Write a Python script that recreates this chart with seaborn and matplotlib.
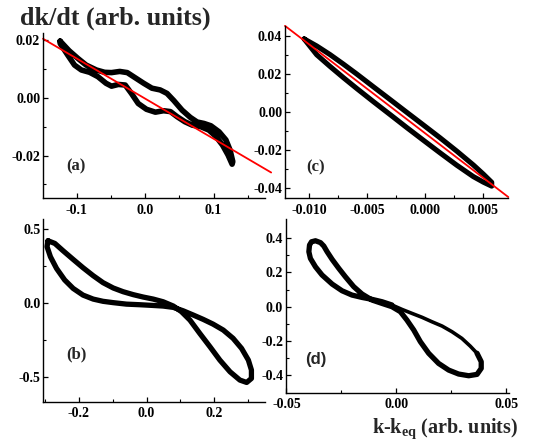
import numpy as np
import matplotlib
matplotlib.use("Agg")
import matplotlib.pyplot as plt
import seaborn as sns
import pandas as pd

# ---------------- data ----------------
# panel (a): loop, two branches (x, y)
a_up_x = [-0.124, -0.111, -0.098, -0.086, -0.071, -0.059, -0.049, -0.037, -0.026, -0.015, -0.002,
          0.010, 0.022, 0.032, 0.042, 0.054, 0.066, 0.076, 0.086, 0.096, 0.108, 0.118, 0.124, 0.128]
a_up_y = [0.0196, 0.0163, 0.0136, 0.0113, 0.0096, 0.0088, 0.0087, 0.0091, 0.0087, 0.0070, 0.0050,
          0.0033, 0.0027, 0.0015, -0.0010, -0.0043, -0.0068, -0.0084, -0.0089, -0.0097, -0.0118,
          -0.0146, -0.0181, -0.0221]
a_lo_x = [0.127, 0.121, 0.113, 0.103, 0.093, 0.081, 0.069, 0.058, 0.047, 0.037, 0.027, 0.015, 0.002,
          -0.010, -0.020, -0.029, -0.039, -0.049, -0.057, -0.069, -0.081, -0.093, -0.103, -0.113, -0.124]
a_lo_y = [-0.0230, -0.0198, -0.0164, -0.0133, -0.0112, -0.0100, -0.0095, -0.0083, -0.0066, -0.0048,
          -0.0045, -0.0050, -0.0040, -0.0020, 0.0015, 0.0044, 0.0046, 0.0040, 0.0050, 0.0073, 0.0088,
          0.0096, 0.0113, 0.0148, 0.0188]
fit_a_slope, fit_a_intercept = -0.139, -0.0003

# panel (b)
b_x = [-0.290, -0.270, -0.246, -0.216, -0.187, -0.157, -0.128, -0.098, -0.069, -0.039, -0.010, 0.020,
       0.049, 0.079, 0.103, 0.128, 0.157, 0.187, 0.216, 0.246, 0.275, 0.295,
       0.309, 0.309, 0.300, 0.280, 0.255, 0.226, 0.196, 0.167, 0.138, 0.108, 0.079, 0.049, 0.020,
       -0.020, -0.059, -0.098, -0.128, -0.157, -0.187, -0.216, -0.241, -0.265, -0.283, -0.293, -0.290]
b_y = [0.423, 0.405, 0.356, 0.297, 0.241, 0.187, 0.140, 0.104, 0.079, 0.059, 0.043, 0.029,
       0.011, -0.018, -0.056, -0.113, -0.203, -0.293, -0.383, -0.462, -0.518, -0.534,
       -0.507, -0.450, -0.383, -0.304, -0.236, -0.180, -0.140, -0.108, -0.079, -0.050, -0.027,
       -0.018, -0.014, -0.009, -0.005, 0.005, 0.014, 0.029, 0.056, 0.101, 0.158, 0.236, 0.315,
       0.383, 0.423]

# panel (c)
c_x = [-0.01040, -0.00932, -0.00818, -0.00703, -0.00588, -0.00445, -0.00301, -0.00158, -0.00014,
       0.00129, 0.00273, 0.00416, 0.00502, 0.00574,
       0.00574, 0.00502, 0.00416, 0.00273, 0.00129, -0.00014, -0.00158, -0.00301, -0.00445,
       -0.00588, -0.00703, -0.00818, -0.00932, -0.01040]
c_y = [0.0385, 0.0348, 0.0303, 0.0253, 0.0201, 0.0134, 0.0067, 0.0000, -0.0067, -0.0134, -0.0204,
       -0.0277, -0.0325, -0.0368,
       -0.0388, -0.0367, -0.0338, -0.0278, -0.0213, -0.0147, -0.0080, -0.0012, 0.0056, 0.0125,
       0.0182, 0.0241, 0.0302, 0.0385]
fit_c_slope, fit_c_intercept = -4.678, -0.0110

# panel (d): dense part, then sparse part (upper edge of the lower-right lobe)
d_x = [-0.0020, -0.0065, -0.0111, -0.0156, -0.0202, -0.0247, -0.0292, -0.0338,
       -0.0368, -0.0391, -0.0398, -0.0395, -0.0386, -0.0368, -0.0345, -0.0330, -0.0315, -0.0292,
       -0.0262, -0.0232, -0.0194, -0.0156, -0.0111, -0.0065, -0.0020, 0.0018, 0.0048, 0.0079,
       0.0109, 0.0147, 0.0192, 0.0238, 0.0283, 0.0329, 0.0367, 0.0386, 0.0386, 0.0367]
d_y = [0.010, 0.029, 0.043, 0.054, 0.068, 0.093, 0.132, 0.185,
       0.233, 0.282, 0.321, 0.360, 0.379, 0.385, 0.374, 0.354, 0.321, 0.276,
       0.224, 0.175, 0.117, 0.074, 0.039, 0.019, 0.000, -0.029, -0.078, -0.136,
       -0.204, -0.272, -0.331, -0.370, -0.393, -0.403, -0.395, -0.360, -0.321, -0.272]
d_sparse_x = [0.0367, 0.0336, 0.0298, 0.0253, 0.0208, 0.0162, 0.0117, 0.0071, 0.0026, -0.0020]
d_sparse_y = [-0.272, -0.230, -0.185, -0.146, -0.113, -0.088, -0.062, -0.039, -0.016, 0.010]

a_xticks, a_xlabels = [-0.1, 0.0, 0.1], ["-0.1", "0.0", "0.1"]
a_yticks, a_ylabels = [-0.02, 0.0, 0.02], ["-0.02", "0.00", "0.02"]
b_xticks, b_xlabels = [-0.2, 0.0, 0.2], ["-0.2", "0.0", "0.2"]
b_yticks, b_ylabels = [-0.5, 0.0, 0.5], ["-0.5", "0.0", "0.5"]
c_xticks, c_xlabels = [-0.010, -0.005, 0.0, 0.005], ["-0.010", "-0.005", "0.000", "0.005"]
c_yticks, c_ylabels = [-0.04, -0.02, 0.0, 0.02, 0.04], ["-0.04", "-0.02", "0.00", "0.02", "0.04"]
d_xticks, d_xlabels = [-0.05, 0.0, 0.05], ["-0.05", "0.00", "0.05"]
d_yticks, d_ylabels = [-0.4, -0.2, 0.0, 0.2, 0.4], ["-0.4", "-0.2", "0.0", "0.2", "0.4"]

# ---------------- style ----------------
sns.set_style("ticks")
plt.rcParams["font.family"] = ["Liberation Serif", "DejaVu Serif"]
plt.rcParams["mathtext.fontset"] = "custom"
plt.rcParams["mathtext.rm"] = "Liberation Serif:bold"
plt.rcParams["mathtext.it"] = "Liberation Serif:bold"
plt.rcParams["mathtext.bf"] = "Liberation Serif:bold"

fig = plt.figure(figsize=(5.33, 4.46), dpi=100)

W, H = 533.0, 446.0
def box(l, r, t, b):
    return [l / W, 1 - b / H, (r - l) / W, (b - t) / H]

ax_a = fig.add_axes(box(43, 265, 33.3, 198))
ax_c = fig.add_axes(box(285, 508.3, 26, 198.3))
ax_b = fig.add_axes(box(43.3, 265, 219, 401.7))
ax_d = fig.add_axes(box(286, 508.7, 219, 392.7))

def loop(ax, xs, ys, lw):
    df = pd.DataFrame({"x": xs, "y": ys})
    sns.lineplot(data=df, x="x", y="y", sort=False, estimator=None, ax=ax, color="black",
                 lw=lw, solid_joinstyle="round", solid_capstyle="round")

def style(ax, xlim, ylim, xt, xl, yt, yl, xminor, yminor):
    ax.set_xlim(*xlim)
    ax.set_ylim(*ylim)
    ax.set_xticks(xt)
    ax.set_xticklabels(xl)
    ax.set_yticks(yt)
    ax.set_yticklabels(yl)
    ax.set_xticks(xminor, minor=True)
    ax.set_yticks(yminor, minor=True)
    ax.set_xlabel("")
    ax.set_ylabel("")
    for s in ["top", "right"]:
        ax.spines[s].set_visible(False)
    for s in ["left", "bottom"]:
        ax.spines[s].set_linewidth(1.0)
        ax.spines[s].set_color("black")
    ax.tick_params(which="major", direction="in", length=3.5, width=0.9, colors="black",
                   labelsize=10)
    ax.tick_params(which="minor", direction="in", length=2, width=0.8, colors="black")
    ax.tick_params(axis="y", which="major", pad=2)
    ax.tick_params(axis="x", which="major", pad=4)
    for lab in ax.get_xticklabels() + ax.get_yticklabels():
        lab.set_fontweight("bold")
        lab.set_family("Liberation Serif")

# (a)
loop(ax_a, a_up_x + a_lo_x + a_up_x[:1], a_up_y + a_lo_y + a_up_y[:1], lw=4.0)
a_xlim = (-0.149, 0.175)
fx = np.array([a_xlim[0], 0.184])
sns.lineplot(x=fx, y=fit_a_slope * fx + fit_a_intercept, ax=ax_a, color="red", lw=1.3,
             clip_on=False)
style(ax_a, a_xlim, (-0.0347, 0.0223), a_xticks, a_xlabels, a_yticks, a_ylabels,
      [-0.05, 0.05, 0.15], [-0.03, -0.01, 0.01])
ax_a.text(-0.1006, -0.0236, "(a)", ha="center", va="center", fontsize=12, fontweight="bold")

# (c)
loop(ax_c, c_x, c_y, lw=3.7)
c_xlim = (-0.01205, 0.00717)
fx = np.array(c_xlim)
sns.lineplot(x=fx, y=fit_c_slope * fx + fit_c_intercept, ax=ax_c, color="red", lw=1.3,
             clip_on=False)
style(ax_c, c_xlim, (-0.0452, 0.0453), c_xticks, c_xlabels, c_yticks, c_ylabels,
      [-0.0075, -0.0025, 0.0025], [-0.03, -0.01, 0.01, 0.03])
ax_c.text(-0.00938, -0.0292, "(c)", ha="center", va="center", fontsize=12, fontweight="bold")

# (b)
loop(ax_b, b_x, b_y, lw=3.8)
style(ax_b, (-0.304, 0.349), (-0.664, 0.570), b_xticks, b_xlabels, b_yticks, b_ylabels,
      [-0.3, -0.1, 0.1, 0.3], [-0.25, 0.25])
ax_b.text(-0.205, -0.342, "(b)", ha="center", va="center", fontsize=12, fontweight="bold")

# (d)
loop(ax_d, d_x, d_y, lw=3.8)
df_sp = pd.DataFrame({"x": d_sparse_x, "y": d_sparse_y})
sns.lineplot(data=df_sp, x="x", y="y", sort=False, estimator=None, ax=ax_d, color="black",
             lw=2.6, solid_capstyle="round")
style(ax_d, (-0.0502, 0.0511), (-0.502, 0.512), d_xticks, d_xlabels, d_yticks, d_ylabels,
      [-0.025, 0.025], [-0.3, -0.1, 0.1, 0.3])
ax_d.text(-0.0365, -0.308, "(d)", ha="center", va="center", fontsize=12, fontweight="bold",
          family="Liberation Sans")

fig.text(20 / W, 1 - 25 / H, "dk/dt (arb. units)", ha="left", va="baseline", fontsize=18.8,
         fontweight="bold")
fig.text(518 / W, 1 - 433 / H, r"k-k$_{eq}$ (arb. units)", ha="right", va="baseline",
         fontsize=14.5, fontweight="bold")

fig.savefig("out.png", dpi=100)
